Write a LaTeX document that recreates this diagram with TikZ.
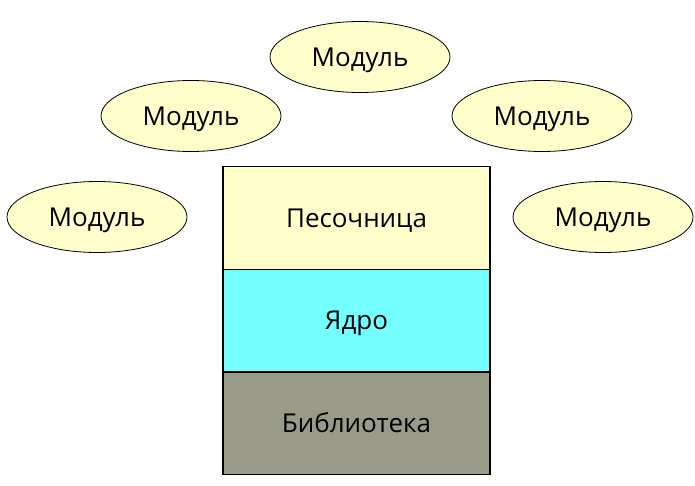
\documentclass[tikz,border=0pt]{standalone}
\usepackage{fontspec}
\setmainfont{Open Sans}
\usetikzlibrary{shapes.geometric}
\definecolor{modfill}{HTML}{FFFFCC}
\definecolor{corefill}{HTML}{73FFFF}
\definecolor{libfill}{HTML}{9A9A88}
\tikzset{
  modul/.style={ellipse, draw=black, line width=0.8pt, fill=modfill, minimum width=180pt, minimum height=71pt, inner sep=0pt, text depth=0pt, font=\fontsize{26}{31}\selectfont},
  layer/.style={draw=black, line width=1.5pt, minimum width=267pt, minimum height=102.5pt, inner sep=0pt, text depth=0pt, font=\fontsize{26}{31}\selectfont}
}
\begin{document}
\begin{tikzpicture}[x=1pt,y=-1pt]
\useasboundingbox (0,0) rectangle (695,486);
\node[modul] (m1) at (360,57) {Модуль};
\node[modul] (m2) at (191,116) {Модуль};
\node[modul] (m3) at (542,116) {Модуль};
\node[modul] (m4) at (97,217) {Модуль};
\node[modul] (m5) at (603,217) {Модуль};
\node[layer, fill=modfill] (sand) at (356.5,218) {Песочница};
\node[layer, fill=corefill] (core) at (356.5,320.5) {Ядро};
\node[layer, fill=libfill] (lib) at (356.5,423) {Библиотека};
\end{tikzpicture}
\end{document}
